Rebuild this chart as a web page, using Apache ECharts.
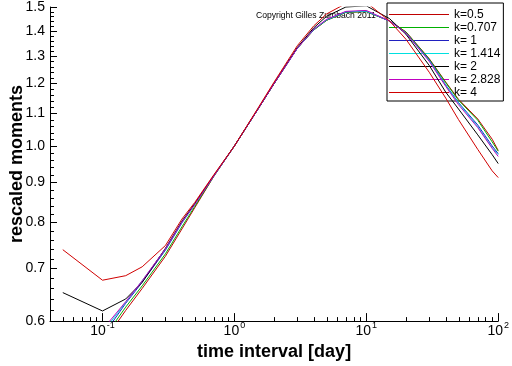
<!DOCTYPE html>
<html>
<head>
<meta charset="utf-8">
<script src="https://cdn.jsdelivr.net/npm/echarts@6/dist/echarts.min.js"></script>
<style>
html,body{margin:0;padding:0;background:#fff;}
#chart{width:512px;height:366px;}
</style>
</head>
<body>
<div id="chart"></div>
<script>
// ---- data ----
const xValues = [0.05, 0.1, 0.15, 0.2, 0.3, 0.4, 0.5, 0.7, 1, 1.5, 2, 3, 4, 5, 7, 10, 15, 20, 30, 40, 50, 70, 90, 100];
const k05   = [0.48, 0.562, 0.619, 0.660, 0.725, 0.785, 0.835, 0.916, 1.0, 1.112, 1.2, 1.33, 1.403, 1.443, 1.477, 1.48, 1.44, 1.395, 1.29, 1.205, 1.146, 1.082, 1.02, 0.987];
const k0707 = [0.49, 0.568, 0.625, 0.665, 0.730, 0.790, 0.838, 0.916, 1.0, 1.112, 1.2, 1.33, 1.403, 1.443, 1.477, 1.48, 1.44, 1.394, 1.288, 1.203, 1.143, 1.078, 1.012, 0.985];
const k1    = [0.50, 0.574, 0.632, 0.672, 0.738, 0.799, 0.843, 0.917, 1.0, 1.112, 1.2, 1.33, 1.405, 1.445, 1.479, 1.482, 1.44, 1.39, 1.285, 1.195, 1.135, 1.063, 1.0, 0.978];
const k1414 = [0.52, 0.580, 0.634, 0.675, 0.740, 0.800, 0.843, 0.917, 1.0, 1.112, 1.2, 1.33, 1.405, 1.445, 1.479, 1.482, 1.44, 1.39, 1.283, 1.193, 1.133, 1.058, 0.995, 0.975];
const k2    = [0.652, 0.618, 0.640, 0.672, 0.742, 0.803, 0.845, 0.918, 1.0, 1.112, 1.2, 1.333, 1.412, 1.46, 1.50, 1.505, 1.45, 1.385, 1.265, 1.17, 1.114, 1.033, 0.975, 0.95];
const k2828 = [0.55, 0.585, 0.635, 0.675, 0.741, 0.801, 0.843, 0.917, 1.0, 1.112, 1.2, 1.33, 1.406, 1.447, 1.481, 1.485, 1.44, 1.39, 1.28, 1.19, 1.128, 1.055, 0.993, 0.97];
const k4    = [0.739, 0.676, 0.685, 0.703, 0.748, 0.808, 0.848, 0.92, 1.0, 1.115, 1.205, 1.34, 1.42, 1.47, 1.515, 1.52, 1.44, 1.365, 1.24, 1.15, 1.08, 0.99, 0.93, 0.912];
const seriesNames = ['k=0.5', 'k=0.707', 'k= 1', 'k= 1.414', 'k= 2', 'k= 2.828', 'k= 4'];
const seriesValues = [k05, k0707, k1, k1414, k2, k2828, k4];
const seriesColors = ['#c00000', '#00b000', '#2020c0', '#00e0e0', '#000000', '#c000c0', '#d00000'];

const xMajorTicks = [0.1, 1, 10, 100];
const xTickExponents = ['-1', '0', '1', '2'];
const xMinorTicks = [0.05, 0.06, 0.07, 0.08, 0.09, 0.2, 0.3, 0.4, 0.5, 0.6, 0.7, 0.8, 0.9,
  2, 3, 4, 5, 6, 7, 8, 9, 20, 30, 40, 50, 60, 70, 80, 90];
const yMajorTicks = [0.6, 0.7, 0.8, 0.9, 1.0, 1.1, 1.2, 1.3, 1.4, 1.5];
const yTickLabels = ['0.6', '0.7', '0.8', '0.9', '1.0', '1.1', '1.2', '1.3', '1.4', '1.5'];
const yMinorTicks = [0.62, 0.64, 0.66, 0.68, 0.72, 0.74, 0.76, 0.78, 0.82, 0.84, 0.86, 0.88,
  0.92, 0.94, 0.96, 0.98, 1.02, 1.04, 1.06, 1.08, 1.12, 1.14, 1.16, 1.18, 1.22, 1.24, 1.26, 1.28,
  1.32, 1.34, 1.36, 1.38, 1.42, 1.44, 1.46, 1.48];
const xMin = 0.04, xMax = 100, yMin = 0.6, yMax = 1.5;

// ---- chart ----
const FONT = "'Liberation Sans', Arial, Helvetica, sans-serif";
const chart = echarts.init(document.getElementById('chart'), null, {renderer: 'canvas'});

function xTickRender(len) {
  return function (params, api) {
    const p = api.coord([api.value(0), yMin]);
    const x = Math.round(p[0]) + 0.5;
    return {type: 'line', silent: true,
      shape: {x1: x, y1: p[1], x2: x, y2: p[1] - len},
      style: {stroke: '#000', lineWidth: 1}};
  };
}
function yTickRender(len, withLabel) {
  return function (params, api) {
    const p = api.coord([xMin, api.value(1)]);
    const y = Math.round(p[1]) + 0.5;
    const children = [{type: 'line', silent: true,
      shape: {x1: p[0], y1: y, x2: p[0] + len, y2: y},
      style: {stroke: '#000', lineWidth: 1}}];
    if (withLabel) {
      children.push({type: 'text', silent: true, x: p[0] - 5, y: y,
        style: {text: yTickLabels[params.dataIndex], fontSize: 14, fontFamily: FONT,
          fill: '#000', align: 'right', verticalAlign: 'middle'}});
    }
    return {type: 'group', children: children};
  };
}

const lineSeries = seriesNames.map((name, i) => ({
  name: name,
  type: 'line',
  data: xValues.map((x, j) => [x, seriesValues[i][j]]),
  symbol: 'none',
  showSymbol: false,
  clip: true,
  z: 5,
  color: seriesColors[i],
  itemStyle: {color: seriesColors[i]},
  lineStyle: {width: 1, color: seriesColors[i]},
  emphasis: {disabled: true}
}));

const tickSeries = [
  {type: 'custom', silent: true, z: 6, data: xMajorTicks.map(v => [v, yMin]), renderItem: xTickRender(8)},
  {type: 'custom', silent: true, z: 6, data: xMinorTicks.map(v => [v, yMin]), renderItem: xTickRender(4)},
  {type: 'custom', silent: true, z: 6, data: yMajorTicks.map(v => [xMin, v]), renderItem: yTickRender(7, true)},
  {type: 'custom', silent: true, z: 6, data: yMinorTicks.map(v => [xMin, v]), renderItem: yTickRender(4, false)}
];

chart.setOption({
  animation: false,
  backgroundColor: '#fff',
  grid: {left: 46, right: 10, top: 7, bottom: 42, containLabel: false},
  xAxis: {
    type: 'log', logBase: 10, min: xMin, max: xMax,
    name: 'time interval [day]', nameLocation: 'middle', nameGap: 19,
    nameTextStyle: {fontSize: 18, fontWeight: 'bold', color: '#000', fontFamily: FONT},
    axisLine: {show: true, onZero: false, lineStyle: {color: '#000', width: 1}},
    axisTick: {show: false}, minorTick: {show: false},
    splitLine: {show: false}, minorSplitLine: {show: false},
    axisLabel: {
      margin: 3, color: '#000', fontFamily: FONT,
      formatter: function (v) {
        for (let i = 0; i < xMajorTicks.length; i++) {
          if (Math.abs(Math.log10(v) - Math.log10(xMajorTicks[i])) < 1e-6) {
            return '{b|10}{s|' + xTickExponents[i] + '}';
          }
        }
        return '';
      },
      rich: {
        b: {fontSize: 14, lineHeight: 14, fontFamily: FONT, color: '#000', verticalAlign: 'bottom'},
        s: {fontSize: 9, lineHeight: 9, fontFamily: FONT, color: '#000', verticalAlign: 'bottom', padding: [0, 0, 8, 1]}
      }
    }
  },
  yAxis: {
    type: 'log', logBase: 10, min: yMin, max: yMax,
    name: 'rescaled moments', nameLocation: 'middle', nameGap: 24, nameRotate: 90,
    nameTextStyle: {fontSize: 18, fontWeight: 'bold', color: '#000', fontFamily: FONT},
    axisLine: {show: true, onZero: false, lineStyle: {color: '#000', width: 1}},
    axisTick: {show: false}, minorTick: {show: false},
    splitLine: {show: false}, minorSplitLine: {show: false},
    axisLabel: {show: false}
  },
  legend: {
    data: seriesNames.map((n, i) => ({name: n, itemStyle: {color: seriesColors[i], borderWidth: 0}})),
    orient: 'vertical',
    left: 387, top: 3,
    padding: [5, 3, 2, 2],
    itemWidth: 60, itemHeight: 1, itemGap: 0,
    icon: 'rect',
    selectedMode: false,
    borderColor: '#000', borderWidth: 1,
    backgroundColor: 'transparent',
    itemStyle: {borderWidth: 0},
    textStyle: {fontSize: 12, lineHeight: 13, color: '#000', fontFamily: FONT}
  },
  graphic: [{
    type: 'text', left: 256, top: 11, silent: true,
    style: {text: 'Copyright Gilles Zumbach 2011', fontSize: 8.6, fontFamily: FONT, fill: '#000'}
  }],
  series: lineSeries.concat(tickSeries)
});
</script>
</body>
</html>
